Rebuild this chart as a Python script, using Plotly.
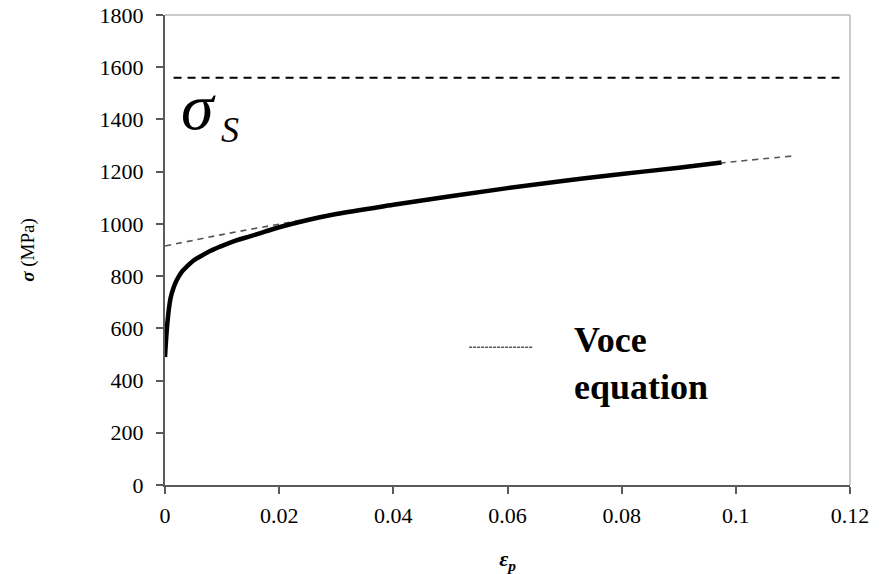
import plotly.graph_objects as go

# Measured flow curve (plastic strain, true stress MPa)
curve_eps = [0, 0.0003, 0.0006, 0.001, 0.0015, 0.002, 0.003, 0.004, 0.005, 0.006, 0.008,
             0.01, 0.0125, 0.015, 0.0175, 0.02, 0.025, 0.03, 0.04, 0.05, 0.06, 0.07,
             0.08, 0.09, 0.0975]
curve_sig = [490, 590, 660, 718, 755, 782, 818, 840, 860, 873, 897,
             916, 937, 953, 970, 987, 1015, 1038, 1073, 1106, 1137, 1165,
             1191, 1215, 1235]

# Voce equation fit
voce_eps = [0, 0.01, 0.02, 0.03, 0.04, 0.05, 0.06, 0.07, 0.08, 0.09, 0.10, 0.11]
voce_sig = [915, 959, 999, 1037, 1072, 1105, 1136, 1165, 1191, 1215, 1239, 1260]

# Saturation stress
sat_eps = [0.0015, 0.1185]
sat_sig = [1560, 1560]

x_ticks = [0, 0.02, 0.04, 0.06, 0.08, 0.1, 0.12]
x_tick_text = ["0", "0.02", "0.04", "0.06", "0.08", "0.1", "0.12"]
y_ticks = [0, 200, 400, 600, 800, 1000, 1200, 1400, 1600, 1800]

SERIF = "Liberation Serif, Times New Roman, serif"

fig = go.Figure()
fig.add_trace(go.Scatter(x=voce_eps, y=voce_sig, mode="lines",
                         line=dict(color="#555555", width=1.6, dash="6px,5px"),
                         line_shape="spline", showlegend=False))
fig.add_trace(go.Scatter(x=curve_eps, y=curve_sig, mode="lines",
                         line=dict(color="black", width=4.5),
                         line_shape="spline", showlegend=False))
fig.add_trace(go.Scatter(x=sat_eps, y=sat_sig, mode="lines",
                         line=dict(color="black", width=2, dash="8px,6px"),
                         showlegend=False))

axis_common = dict(showgrid=False, zeroline=False, showline=True, linecolor="#5a5a5a",
                   linewidth=2, ticks="outside", ticklen=7, tickcolor="#5a5a5a",
                   tickwidth=1.5, automargin=False,
                   tickfont=dict(family=SERIF, size=22, color="black"))

fig.update_layout(
    width=887, height=574,
    margin=dict(l=165, r=37, t=15, b=89),
    paper_bgcolor="white", plot_bgcolor="white",
    xaxis=dict(range=[0, 0.12], tickvals=x_ticks, ticktext=x_tick_text,
               ticklabelstandoff=3,
               title=dict(text="<b><i>ε</i></b><sub><b><i>p</i></b></sub>",
                          font=dict(family=SERIF, size=22, color="black"), standoff=24),
               **axis_common),
    yaxis=dict(range=[0, 1800], tickvals=y_ticks, ticklabelstandoff=8,
               title=dict(text="<b><i>σ</i></b> (MPa)",
                          font=dict(family=SERIF, size=19, color="black"), standoff=60),
               **axis_common),
    shapes=[
        dict(type="line", xref="paper", yref="paper", x0=0, x1=1, y0=1, y1=1,
             line=dict(color="#b8b8b8", width=1.5)),
        dict(type="line", xref="paper", yref="paper", x0=1, x1=1, y0=0, y1=1,
             line=dict(color="#b8b8b8", width=1.5)),
        dict(type="line", xref="paper", yref="paper", x0=0.444, x1=0.537, y0=0.293, y1=0.293,
             line=dict(color="#555555", width=1.5, dash="3px,1px")),
    ],
    annotations=[
        dict(xref="paper", yref="paper", x=0.594, y=0.355, xanchor="left", yanchor="top",
             align="left", showarrow=False,
             text="<b>Voce<br>equation</b>",
             font=dict(family=SERIF, size=36, color="black")),
        dict(xref="paper", yref="paper", x=0.021, y=0.805, xanchor="left", yanchor="middle",
             showarrow=False,
             text="<i>σ</i>",
             font=dict(family=SERIF, size=66, color="black")),
        dict(xref="paper", yref="paper", x=0.079, y=0.755, xanchor="left", yanchor="middle",
             showarrow=False,
             text="<i>S</i>",
             font=dict(family=SERIF, size=36, color="black")),
    ],
)

fig.write_html("out.html")
